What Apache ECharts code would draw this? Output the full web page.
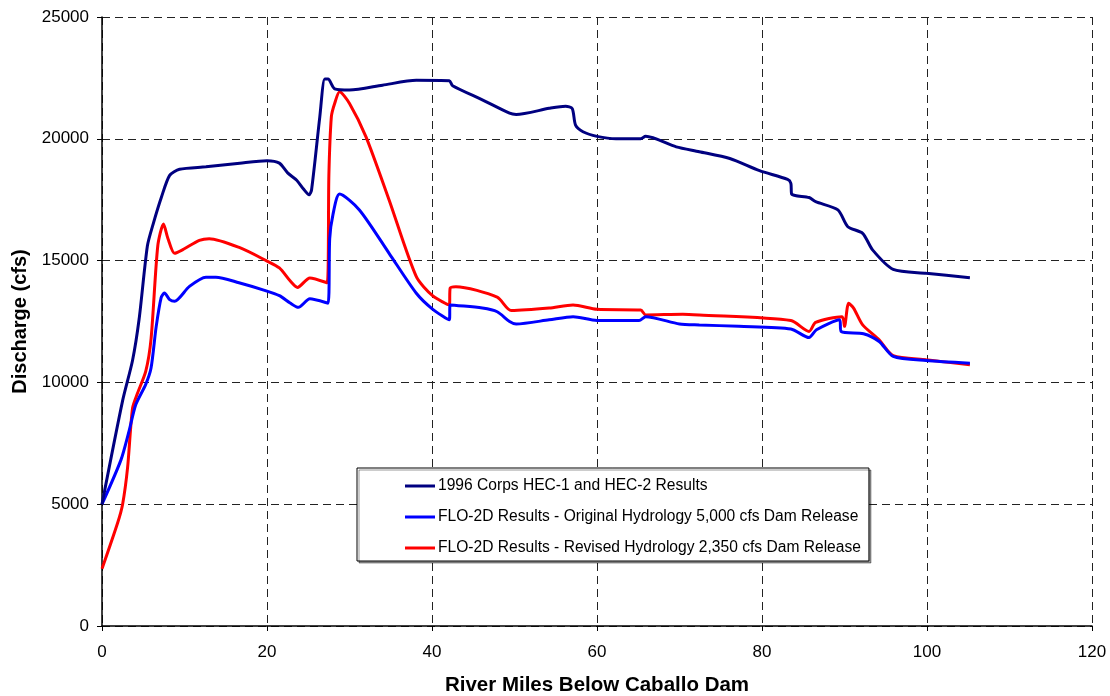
<!DOCTYPE html>
<html>
<head>
<meta charset="utf-8">
<script src="https://cdn.jsdelivr.net/npm/echarts@6/dist/echarts.min.js"></script>
<style>
html,body{margin:0;padding:0;background:#fff;}
#chart{width:1110px;height:696px;}
</style>
</head>
<body>
<div id="chart"></div>
<script>
// ---- Data ----
const seriesNames = [
  "1996 Corps HEC-1 and HEC-2 Results",
  "FLO-2D Results - Original Hydrology 5,000 cfs Dam Release",
  "FLO-2D Results - Revised Hydrology 2,350 cfs Dam Release"
];

const corpsMiles = [0, 2.5, 3.7, 4.5, 5.5, 6.2, 7.2, 8.2, 9.4, 12.6, 16.7, 20, 21.5, 22.5, 23.6, 24.4, 25.1, 25.4, 26.4, 27.0, 27.4, 28.2, 30, 34, 38.1, 42.1, 42.5, 46.1, 49.4, 50.2, 54.2, 56.2, 57.0, 57.4, 58.3, 60, 62.3, 65.3, 65.9, 69.6, 72.4, 76.1, 79.7, 83.1, 83.5, 83.6, 85.7, 86.5, 89.2, 90.4, 92.2, 93.4, 95.9, 99.9, 105.2];
const corpsFlow = [5000, 9250, 10900, 12600, 15600, 16500, 17600, 18500, 18750, 18850, 19000, 19100, 19000, 18600, 18300, 17950, 17700, 17900, 20900, 22450, 22450, 22050, 22000, 22200, 22400, 22380, 22180, 21600, 21050, 21000, 21250, 21340, 21240, 20560, 20290, 20100, 20000, 20000, 20100, 19670, 19470, 19190, 18690, 18330, 18170, 17730, 17590, 17420, 17080, 16390, 16120, 15440, 14640, 14480, 14300];

const origMiles = [0, 2.3, 3.3, 4.1, 5.3, 5.95, 6.56, 7.17, 7.57, 8.2, 8.8, 10.6, 12.6, 13.8, 16.6, 19.9, 21.5, 22.8, 23.8, 25.2, 27.4, 27.6, 28.0, 28.8, 31.2, 34.8, 38.1, 40.1, 42.1, 42.2, 46.1, 47.9, 49.4, 50.2, 54.2, 57.1, 60, 65.1, 65.9, 70.0, 72.4, 77.2, 83.5, 85.7, 86.6, 89.4, 89.6, 92.3, 94.2, 95.9, 99.9, 105.2];
const origFlow = [5000, 6820, 8030, 9090, 9920, 10600, 12270, 13480, 13670, 13400, 13330, 13940, 14320, 14320, 14090, 13760, 13560, 13260, 13080, 13430, 13250, 15900, 16900, 17730, 17080, 15300, 13660, 13000, 12570, 13180, 13050, 12900, 12500, 12400, 12570, 12700, 12540, 12540, 12700, 12400, 12360, 12300, 12190, 11840, 12160, 12570, 12090, 12000, 11680, 11070, 10900, 10790];

const revMiles = [0, 1.9, 2.5, 3.1, 3.7, 4.3, 5.3, 5.95, 6.76, 7.45, 8.0, 8.8, 9.8, 11.8, 13.0, 16.7, 19.9, 21.5, 22.8, 23.7, 25.2, 27.3, 27.5, 27.8, 28.2, 28.8, 30.0, 32.0, 34.8, 38.1, 40.1, 42.1, 42.2, 42.9, 47.9, 49.6, 54.2, 57.1, 60, 65.3, 65.9, 70.4, 72.4, 83.5, 85.7, 86.5, 89.7, 90.0, 90.5, 91.1, 92.2, 94.2, 95.9, 99.9, 105.2];
const revFlow = [2350, 4240, 5000, 6500, 8940, 9550, 10450, 11800, 15600, 16500, 15900, 15300, 15450, 15830, 15900, 15530, 15000, 14700, 14170, 13900, 14290, 14090, 18500, 20900, 21450, 21930, 21450, 20080, 17490, 14340, 13550, 13180, 13870, 13930, 13500, 12950, 13050, 13180, 13000, 12970, 12770, 12800, 12770, 12540, 12090, 12460, 12700, 12300, 13250, 13050, 12360, 11750, 11100, 10930, 10720];

const xAxisTitle = "River Miles Below Caballo Dam";
const yAxisTitle = "Discharge (cfs)";

// ---- Build ----
function pairs(xs, ys) { return xs.map((x, i) => [x, ys[i]]); }
const colors = ["#000080", "#0000FF", "#FF0000"];
const seriesData = [pairs(corpsMiles, corpsFlow), pairs(origMiles, origFlow), pairs(revMiles, revFlow)];

const chart = echarts.init(document.getElementById('chart'), null, {renderer: 'canvas'});
const font = "Liberation Sans, Arial, sans-serif";
const gridLine = {show: true, lineStyle: {color: '#222', type: [8, 5], width: 1}};

chart.setOption({
  animation: false,
  backgroundColor: '#fff',
  grid: {left: 102, right: 18, top: 17, bottom: 70, containLabel: false, outerBoundsMode: 'none'},
  xAxis: {
    type: 'value', min: 0, max: 120, interval: 20,
    name: xAxisTitle, nameLocation: 'middle', nameGap: 49,
    nameTextStyle: {fontFamily: font, fontSize: 20.5, fontWeight: 'bold', color: '#000'},
    axisLine: {show: true, onZero: false, lineStyle: {color: '#000', width: 1.5}},
    axisTick: {show: true, length: 5, lineStyle: {color: '#000'}},
    axisLabel: {fontFamily: font, fontSize: 17, color: '#000', margin: 18},
    splitLine: gridLine
  },
  yAxis: {
    type: 'value', min: 0, max: 25000, interval: 5000,
    name: yAxisTitle, nameLocation: 'middle', nameGap: 57,
    nameTextStyle: {fontFamily: font, fontSize: 20, fontWeight: 'bold', color: '#000'},
    axisLine: {show: true, lineStyle: {color: '#000', width: 1.5}},
    axisTick: {show: true, length: 5, lineStyle: {color: '#000'}},
    axisLabel: {fontFamily: font, fontSize: 17, color: '#000', margin: 13, formatter: v => String(v)},
    splitLine: gridLine
  },
  legend: {
    orient: 'vertical',
    left: 357, top: 468,
    padding: [10, 8, 5, 48],
    itemGap: 15,
    itemWidth: 30, itemHeight: 3,
    icon: 'rect',
    backgroundColor: '#fff',
    borderColor: '#000', borderWidth: 1, borderRadius: 0,
    shadowColor: 'rgba(0,0,0,0.4)', shadowBlur: 0, shadowOffsetX: 2, shadowOffsetY: 2,
    textStyle: {fontFamily: font, fontSize: 15.6, color: '#000', padding: [0, 0, 0, -2]},
    data: seriesNames
  },
  series: seriesNames.map((name, i) => ({
    name: name,
    type: 'line',
    data: seriesData[i],
    smooth: 0.25,
    showSymbol: false,
    symbol: 'none',
    lineStyle: {color: colors[i], width: 3},
    itemStyle: {color: colors[i]},
    z: 3 - i
  }))
});
</script>
</body>
</html>
